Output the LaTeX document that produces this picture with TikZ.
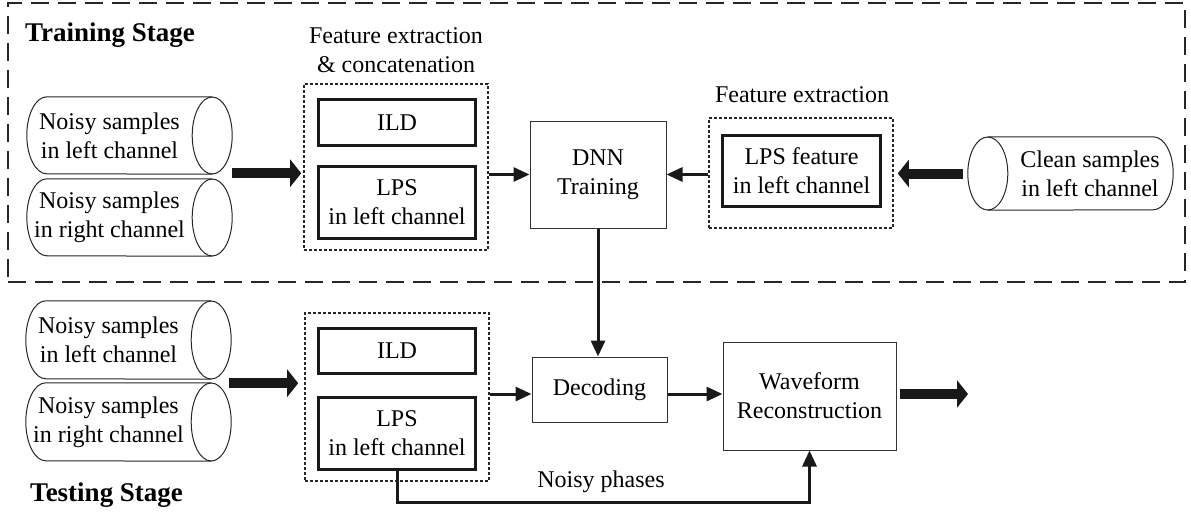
\documentclass[tikz,border=0pt]{standalone}
\usepackage{fontspec}
\setmainfont{Liberation Serif}
\usetikzlibrary{arrows.meta,calc}
\tikzset{
  txt/.style={font=\fontsize{24}{29}\selectfont, align=center, inner sep=0pt},
  stage/.style={font=\fontsize{27}{32}\selectfont\bfseries, inner sep=0pt},
  cyl/.style={txt, minimum height=#1, minimum width=165pt},
  featbox/.style={draw=black!85, line width=1.6pt, dash pattern=on 3pt off 2pt, minimum width=184pt, inner sep=0pt},
  thickbox/.style={txt, draw=black!90, line width=3.5pt, minimum width=157pt},
  thinbox/.style={txt, draw=black!80, line width=1pt},
  arr/.style={draw=black!90, line width=3pt, -{Triangle[length=16pt,width=14pt]}},
  bigarr/.style={draw=black!90, line width=10pt, -{Triangle[length=11pt,width=27pt]}},
  cylline/.style={draw=black!85, line width=1pt},
  outer/.style={draw=black!85, line width=2.5pt, dash pattern=on 18pt off 9pt, inner sep=0pt}
}
\newcommand{\cylright}[2]{% node name, half height
  \draw[cylline] ($(#1.east)+(20,0)$) ellipse [x radius=20pt, y radius=#2pt];
  \draw[cylline] ($(#1.north east)+(20,0)$) -- ($(#1.north west)+(20,0)$)
     arc[start angle=90, end angle=270, x radius=20pt, y radius=#2pt] -- ($(#1.south east)+(20,0)$);
}
\newcommand{\cylleft}[2]{% node name, half height
  \draw[cylline] ($(#1.west)+(-19,0)$) ellipse [x radius=20pt, y radius=#2pt];
  \draw[cylline] ($(#1.north west)+(-19,0)$) -- ($(#1.north east)+(-20,0)$)
     arc[start angle=90, end angle=-90, x radius=20pt, y radius=#2pt] -- ($(#1.south west)+(-19,0)$);
}
\begin{document}
\begin{tikzpicture}[x=1pt, y=-1pt]
\useasboundingbox (0,0) rectangle (1191,515);

% training frame
\node[outer, minimum width=1177pt, minimum height=279pt] (trainframe) at (596.5,142.5) {};
\node[stage, anchor=west] (trainlabel) at (25,35) {Training Stage};
\node[stage, anchor=west] (testlabel) at (30,495) {Testing Stage};

% ---------- training ----------
\node[cyl=77pt] (tc1) at (109.5,135.5) {Noisy samples\\in left channel};
\node[cyl=77pt] (tc2) at (109.5,217.5) {Noisy samples\\in right channel};
\cylright{tc1}{38.5}
\cylright{tc2}{38.5}

\node[txt] (tfelabel) at (396,50.5) {Feature extraction\\\& concatenation};
\node[featbox, minimum height=166pt] (tfe) at (396,167) {};
\node[thickbox, minimum height=46pt] (tild) at (397,122.5) {ILD};
\node[thickbox, minimum height=72pt] (tlps) at (397,202.5) {LPS\\in left channel};

\node[thinbox, minimum width=136pt, minimum height=107pt] (dnn) at (598,174.5) {DNN\\Training};

\node[txt] (fe2label) at (802,95) {Feature extraction};
\node[featbox, minimum height=110pt] (fe2) at (801,173) {};
\node[thickbox, minimum width=158pt, minimum height=71pt] (lpsf) at (801.5,171) {LPS feature\\in left channel};

\node[cyl=73pt, minimum width=166pt] (clean) at (1090,173.5) {Clean samples\\in left channel};
\cylleft{clean}{36.5}

\draw[bigarr] ($(tc1.south east)+(40,-1)$) -- ($(tfe.west |- tc1.south)+(-2,-1)$);
\draw[arr] (tfe.east |- dnn.west) -- (dnn.west);
\draw[arr] (fe2.west |- dnn.east) -- (dnn.east);
\draw[bigarr] ($(clean.west)+(-44,0)$) -- ($(fe2.east |- clean.west)+(4,0)$);

% ---------- testing ----------
\node[cyl=78pt] (sc1) at (108.5,340) {Noisy samples\\in left channel};
\node[cyl=78pt] (sc2) at (108.5,422) {Noisy samples\\in right channel};
\cylright{sc1}{39}
\cylright{sc2}{39}

\node[featbox, minimum height=168pt] (sfe) at (397,397) {};
\node[thickbox, minimum height=45pt] (sild) at (397,351) {ILD};
\node[thickbox, minimum height=72pt] (slps) at (397,433.5) {LPS\\in left channel};

\node[thinbox, minimum width=135pt, minimum height=65pt] (dec) at (599.5,389.5) {Decoding};
\node[thinbox, minimum width=173pt, minimum height=108pt] (wav) at (809.5,396) {Waveform\\Reconstruction};
\coordinate (sy) at (0,394);
\coordinate (outend) at (968,394);
\node[txt] (phlabel) at (601,482) {Noisy phases};

\draw[bigarr] ($(sc1.south east)+(38,4)$) -- ($(sfe.west |- sc1.south)+(-6,4)$);
\draw[arr] (dnn.south) -- (dnn.south |- dec.north);
\draw[arr] (sfe.east |- sy) -- (dec.west |- sy);
\draw[arr] (dec.east |- sy) -- (wav.west |- sy);
\draw[bigarr] ($(wav.east |- sy)+(3,0)$) -- (outend);
\draw[arr] (slps.south) -- ++(0,31) -| (wav.south);
\end{tikzpicture}
\end{document}
